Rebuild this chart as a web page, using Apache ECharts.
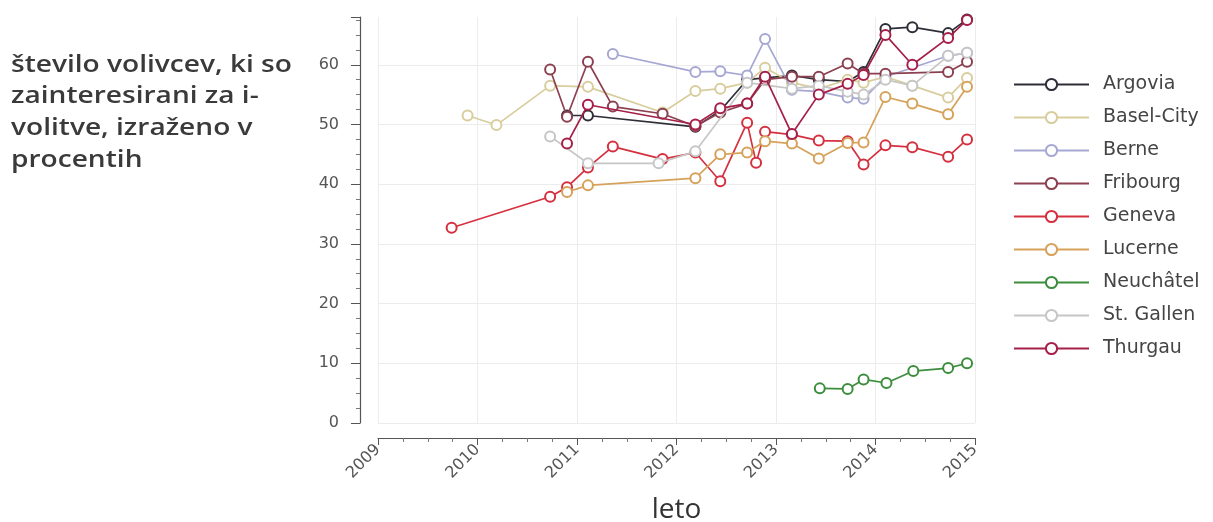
<!DOCTYPE html>
<html>
<head>
<meta charset="utf-8">
<script src="https://cdn.jsdelivr.net/npm/echarts@6/dist/echarts.min.js"></script>
<style>
  html, body { margin: 0; padding: 0; background: #ffffff; }
  #chart { width: 1213px; height: 522px; }
</style>
</head>
<body>
<div id="chart"></div>
<script>
// ---- data: [year, percent] ----
const seriesNames = ['Argovia', 'Basel-City', 'Berne', 'Fribourg', 'Geneva', 'Lucerne', 'Neuchâtel', 'St. Gallen', 'Thurgau'];

const argovia = [[2010.90, 51.5], [2011.11, 51.5], [2012.19, 49.6], [2012.44, 52.3], [2012.71, 57.5], [2012.89, 57.8],
  [2013.16, 58.2], [2013.43, 57.5], [2013.72, 57.2], [2013.88, 58.8], [2014.10, 66.0], [2014.37, 66.3], [2014.73, 65.3], [2014.92, 67.6]];
const baselCity = [[2009.90, 51.5], [2010.19, 49.9], [2010.73, 56.5], [2011.11, 56.3], [2011.86, 52.0], [2012.19, 55.6],
  [2012.44, 56.0], [2012.71, 57.0], [2012.89, 59.5], [2013.16, 57.0], [2013.43, 56.0], [2013.72, 57.5], [2013.88, 57.0],
  [2014.10, 58.0], [2014.37, 56.5], [2014.73, 54.5], [2014.92, 57.8]];
const berne = [[2011.36, 61.8], [2012.19, 58.8], [2012.44, 58.9], [2012.71, 58.2], [2012.89, 64.3], [2013.16, 55.8],
  [2013.43, 55.5], [2013.72, 54.5], [2013.88, 54.3], [2014.10, 58.0], [2014.73, 61.5], [2014.92, 62.0]];
const fribourg = [[2010.73, 59.2], [2010.90, 51.3], [2011.11, 60.5], [2011.36, 53.0], [2011.86, 51.8], [2012.19, 49.7],
  [2012.44, 52.0], [2012.71, 53.5], [2012.89, 57.5], [2013.16, 58.0], [2013.43, 58.0], [2013.72, 60.2], [2013.88, 58.5],
  [2014.10, 58.5], [2014.73, 58.8], [2014.92, 60.5]];
const geneva = [[2009.74, 32.7], [2010.73, 37.9], [2010.90, 39.5], [2011.11, 42.8], [2011.36, 46.3], [2011.86, 44.2],
  [2012.19, 45.3], [2012.44, 40.5], [2012.71, 50.3], [2012.80, 43.6], [2012.89, 48.8], [2013.16, 48.3], [2013.43, 47.3],
  [2013.72, 47.2], [2013.88, 43.3], [2014.10, 46.5], [2014.37, 46.2], [2014.73, 44.6], [2014.92, 47.5]];
const lucerne = [[2010.90, 38.7], [2011.11, 39.8], [2012.19, 41.0], [2012.44, 45.0], [2012.71, 45.3], [2012.89, 47.2],
  [2013.16, 46.8], [2013.43, 44.3], [2013.72, 46.9], [2013.88, 47.0], [2014.10, 54.6], [2014.37, 53.5], [2014.73, 51.7], [2014.92, 56.3]];
const neuchatel = [[2013.44, 5.8], [2013.72, 5.7], [2013.88, 7.3], [2014.11, 6.7], [2014.38, 8.7], [2014.73, 9.2], [2014.92, 10.0]];
const stGallen = [[2010.73, 48.0], [2011.11, 43.5], [2011.82, 43.5], [2012.19, 45.5], [2012.71, 57.0], [2013.16, 56.0],
  [2013.43, 56.5], [2013.72, 55.5], [2013.88, 55.0], [2014.10, 57.5], [2014.37, 56.5], [2014.73, 61.5], [2014.92, 62.0]];
const thurgau = [[2010.90, 46.8], [2011.11, 53.3], [2012.19, 50.0], [2012.44, 52.7], [2012.71, 53.5], [2012.89, 58.0],
  [2013.16, 48.4], [2013.43, 55.0], [2013.72, 56.8], [2013.88, 58.3], [2014.10, 65.0], [2014.37, 60.0], [2014.73, 64.5], [2014.92, 67.5]];

const allData = [argovia, baselCity, berne, fribourg, geneva, lucerne, neuchatel, stGallen, thurgau];
const colors = ['#2e2e38', '#d8cd9c', '#a7a7d4', '#8c4050', '#d5303f', '#d6a25a', '#3c8d3c', '#c6c6c6', '#a51f48'];

const xTickYears = [2009, 2010, 2011, 2012, 2013, 2014, 2015];
const yTickValues = [0, 10, 20, 30, 40, 50, 60];

const yTitleLines = ['število volivcev, ki so', 'zainteresirani za i-', 'volitve, izraženo v', 'procentih'];
const xTitle = 'leto';

const chart = echarts.init(document.getElementById('chart'), null, { renderer: 'canvas' });

const series = seriesNames.map((name, i) => ({
  name: name,
  type: 'line',
  data: allData[i],
  symbol: 'emptyCircle',
  symbolSize: 10,
  showAllSymbol: true,
  lineStyle: { width: 1.7, color: colors[i] },
  itemStyle: { color: colors[i], borderColor: colors[i], borderWidth: 1.7 },
  emphasis: { disabled: true },
  z: 2 + i
}));

chart.setOption({
  animation: false,
  backgroundColor: '#ffffff',
  textStyle: { fontFamily: 'Liberation Sans, Arial, sans-serif' },
  grid: { left: 378, right: 238, top: 17, bottom: 99, containLabel: false, outerBoundsMode: 'none' },
  graphic: [{
    type: 'text',
    x: 11,
    y: 49,
    scaleX: 1.17,
    scaleY: 1,
    style: {
      x: 0,
      y: 0,
      text: yTitleLines.join('\n'),
      font: '600 24px "Open Sans", sans-serif',
      lineHeight: 31.7,
      verticalAlign: 'top',
      align: 'left',
      fill: '#3a3a3a'
    }
  }],
  legend: {
    orient: 'vertical',
    left: 1013,
    top: 75,
    itemWidth: 75,
    itemHeight: 14,
    itemGap: 14,
    padding: 0,
    data: seriesNames,
    textStyle: { fontSize: 19, lineHeight: 19, color: '#444444', padding: [0, 0, 0, 9], fontFamily: 'DejaVu Sans, sans-serif' }
  },
  xAxis: {
    type: 'value',
    min: xTickYears[0],
    max: xTickYears[xTickYears.length - 1],
    interval: 1,
    offset: 15,
    name: xTitle,
    nameLocation: 'middle',
    nameGap: 58,
    nameMoveOverlap: false,
    nameTextStyle: { fontSize: 28, color: '#333333', fontFamily: 'Open Sans, sans-serif' },
    axisLine: { show: true, onZero: false, lineStyle: { color: '#555555', width: 1.2 } },
    axisTick: { show: true, length: 7, lineStyle: { color: '#555555' } },
    minorTick: { show: true, splitNumber: 4, length: 4, lineStyle: { color: '#777777' } },
    axisLabel: {
      rotate: 45,
      fontSize: 16,
      color: '#555555',
      margin: 9,
      fontFamily: 'DejaVu Sans, sans-serif',
      formatter: v => String(v)
    },
    splitLine: { show: true, lineStyle: { color: '#ececec', width: 1 } }
  },
  yAxis: {
    type: 'value',
    min: 0,
    max: 68,
    interval: 10,
    offset: 18,
    axisLine: { show: true, onZero: false, lineStyle: { color: '#555555', width: 1.2 } },
    axisTick: { show: true, length: 9, lineStyle: { color: '#555555' } },
    minorTick: { show: true, splitNumber: 4, length: 4, lineStyle: { color: '#777777' } },
    axisLabel: {
      fontSize: 16,
      color: '#555555',
      margin: 21,
      fontFamily: 'DejaVu Sans, sans-serif',
      showMaxLabel: false,
      formatter: v => (yTickValues.indexOf(v) >= 0 ? String(v) : '')
    },
    splitLine: { show: true, showMaxLine: false, lineStyle: { color: '#ececec', width: 1 } }
  },
  series: series
});
</script>
</body>
</html>
